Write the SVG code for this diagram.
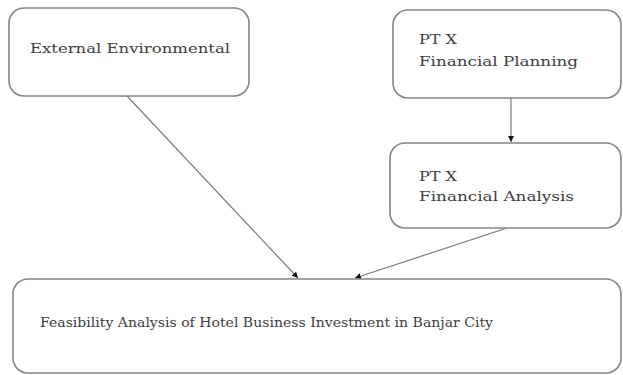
<svg xmlns="http://www.w3.org/2000/svg" width="623" height="375" viewBox="0 0 623 375">
<style>
.box{fill:#fff;stroke:#858585;stroke-width:1.6}
.t{font-family:"DejaVu Serif","Liberation Serif",serif;font-size:13px;fill:#404040}
.c{stroke:#7a7a7a;stroke-width:1.2;fill:none;marker-end:url(#ah)}
</style>
<defs>
<marker id="ah" markerWidth="8" markerHeight="8" refX="6" refY="3" orient="auto" markerUnits="userSpaceOnUse">
<path d="M0,0 L6,3 L0,6 z" fill="#111"/>
</marker>
</defs>
<rect width="623" height="375" fill="#fff"/>
<g id="connectors">
<line class="c" x1="127" y1="96" x2="298" y2="278"/>
<line class="c" x1="511" y1="98" x2="511" y2="142"/>
<line class="c" x1="507" y1="228" x2="355" y2="278"/>
</g>
<g id="external">
<rect class="box" x="9" y="8" width="240" height="88" rx="15"/>
<text class="t" x="30" y="53" textLength="200" lengthAdjust="spacingAndGlyphs">External Environmental</text>
</g>
<g id="planning">
<rect class="box" x="393" y="10" width="228" height="88" rx="15"/>
<text class="t" x="419" y="44" textLength="38" lengthAdjust="spacingAndGlyphs">PT X</text>
<text class="t" x="419" y="66" textLength="159" lengthAdjust="spacingAndGlyphs">Financial Planning</text>
</g>
<g id="analysis">
<rect class="box" x="390" y="143" width="231" height="85" rx="15"/>
<text class="t" x="419" y="181" textLength="38" lengthAdjust="spacingAndGlyphs">PT X</text>
<text class="t" x="419" y="201" textLength="155" lengthAdjust="spacingAndGlyphs">Financial Analysis</text>
</g>
<g id="feasibility">
<rect class="box" x="13" y="279" width="608" height="94" rx="15"/>
<text class="t" x="40" y="327" textLength="453" lengthAdjust="spacingAndGlyphs">Feasibility Analysis of Hotel Business Investment in Banjar City</text>
</g>
</svg>
